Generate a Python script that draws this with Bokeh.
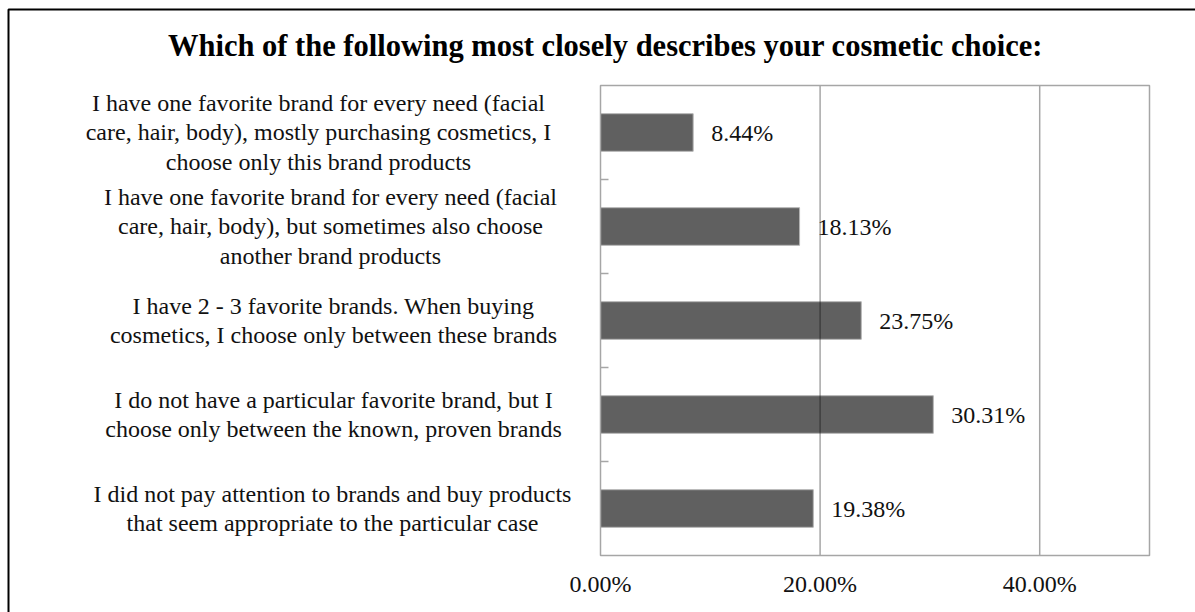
from bokeh.plotting import figure
from bokeh.models import Range1d, ColumnDataSource
from bokeh.core.properties import value
from bokeh.embed import file_html
from bokeh.resources import INLINE

# ---------------- data ----------------
title_text = "Which of the following most closely describes your cosmetic choice:"
categories = [
    "I have one favorite brand for every need (facial\ncare, hair, body), mostly purchasing cosmetics, I\nchoose only this brand products",
    "I have one favorite brand for every need (facial\ncare, hair, body), but sometimes also choose\nanother brand products",
    "I have 2 - 3 favorite brands. When buying\ncosmetics, I choose only between these brands",
    "I do not have a particular favorite brand, but I\nchoose only between the known, proven brands",
    "I did not pay attention to brands and buy products\nthat seem appropriate to the particular case",
]
values = [8.44, 18.13, 23.75, 30.31, 19.38]
x_ticks = [0, 20, 40]
x_tick_labels = ["0.00%", "20.00%", "40.00%"]
x_max = 50

# ---------------- layout constants (canvas pixels) ----------------
W, H = 1195, 612
PL, PR, PT, PB = 600, 1149, 85, 555          # plot area
label_centers = [318, 330, 333, 333, 332]     # x centre of each category label
TITLE_X, TITLE_Y = 605, 45
TICK_LABEL_Y = 583
BORDER_L, BORDER_T = 8, 9
FONT = "Liberation Serif"
GRAY = "#a6a6a6"
TXT = "#111111"
FS = "24px"

n = len(categories)
ys = [n - 1 - i for i in range(n)]           # top category first
y_lo, y_hi = -0.5, n - 0.5

kx = (PR - PL) / x_max                        # px per x unit
ky = (PB - PT) / (y_hi - y_lo)                # px per y unit
X = lambda px: (px - PL) / kx
Y = lambda py: y_hi - (py - PT) / ky

p = figure(width=W, height=H, output_backend="svg", toolbar_location=None,
           x_axis_type=None, y_axis_type=None,
           x_range=Range1d(X(0), X(W)), y_range=Range1d(Y(H), Y(0)),
           min_border=0)
p.min_border_left = p.min_border_right = p.min_border_top = p.min_border_bottom = 0
p.outline_line_color = None
p.background_fill_color = "white"
p.border_fill_color = "white"

# outer chart border (right/bottom edges lie outside the picture)
p.quad(left=X(BORDER_L), right=X(W + 60), top=Y(BORDER_T), bottom=Y(H + 60),
       fill_color=None, line_color="black", line_width=2)

# bars
src = ColumnDataSource(dict(y=ys, v=values, txt=[f"{v:.2f}%" for v in values],
                            cat=categories,
                            dx=[c - PL for c in label_centers]))
p.hbar(y="y", left=0, right="v", height=0.4, source=src,
       fill_color="#606060", line_color="#b4b4b4", line_width=1)

# vertical gridlines (over the bars, slightly transparent)
grid_x = [t for t in x_ticks if 0 < t < x_max]
p.segment(x0=grid_x, x1=grid_x, y0=y_lo, y1=y_hi,
          line_color="black", line_alpha=0.35, line_width=1.5)

# plot-area frame
p.quad(left=0, right=x_max, bottom=y_lo, top=y_hi,
       fill_color=None, line_color=GRAY, line_width=1.5)

# category separator ticks on the value axis, pointing inward
p.ray(x=0, y=[i + 0.5 for i in range(n - 1)], length=8, length_units="screen",
      angle=0, line_color=GRAY, line_width=1.5)

# x tick labels
p.text(x=x_ticks, y=Y(TICK_LABEL_Y), text=x_tick_labels,
       text_align="center", text_baseline="middle",
       text_font=value(FONT), text_font_size=FS, text_color=TXT)

# data labels
p.text(x="v", y="y", text="txt", source=src, x_offset=18,
       text_align="left", text_baseline="middle",
       text_font=value(FONT), text_font_size=FS, text_color=TXT)

# category labels
p.text(x=0, y="y", text="cat", source=src, x_offset="dx",
       text_align="center", text_baseline="middle", text_line_height=1.12,
       text_font=value(FONT), text_font_size=FS, text_color=TXT)

# title
p.text(x=X(TITLE_X), y=Y(TITLE_Y), text=[title_text],
       text_align="center", text_baseline="middle",
       text_font=value(FONT), text_font_size="30.5px", text_font_style="bold",
       text_color="#000000")

open("out.html", "w").write(file_html(p, INLINE))
